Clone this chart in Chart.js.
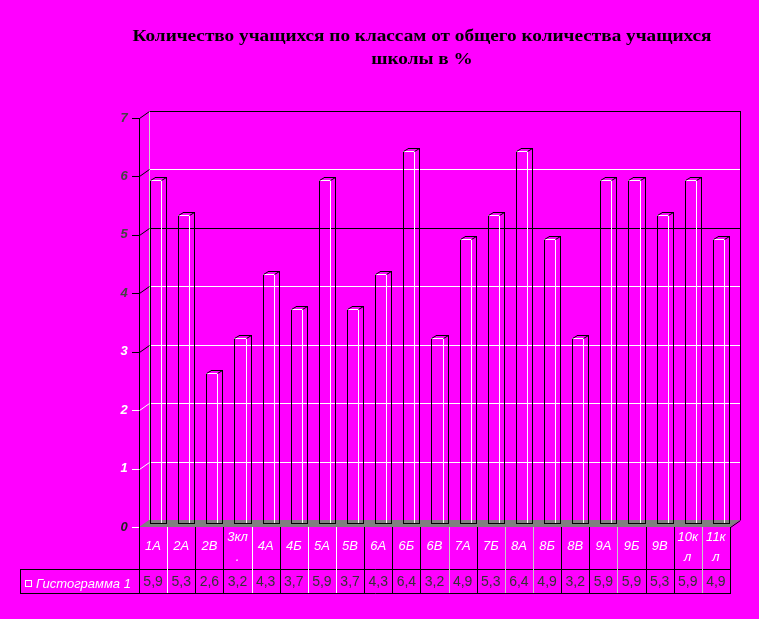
<!DOCTYPE html>
<html>
<head>
<meta charset="utf-8">
<script src="https://cdn.jsdelivr.net/npm/chart.js@4/dist/chart.umd.min.js"></script>
<style>
html,body{margin:0;padding:0;background:#ff00ff;}
#c{display:block;}
</style>
</head>
<body>
<canvas id="c" width="759" height="619"></canvas>
<script>
const titleLines = ['Количество учащихся по классам от общего количества учащихся', 'школы в %'];
const categories = ['1А','2А','2В','3кл.','4А','4Б','5А','5В','6А','6Б','6В','7А','7Б','8А','8Б','8В','9А','9Б','9В','10кл','11кл'];
const seriesName = 'Гистограмма 1';
const values = [5.9,5.3,2.6,3.2,4.3,3.7,5.9,3.7,4.3,6.4,3.2,4.9,5.3,6.4,4.9,3.2,5.9,5.9,5.3,5.9,4.9];
const yTicks = [0,1,2,3,4,5,6,7];

const DX = 10, DY = -7;          // back wall offset
const BDX = 5, BDY = -3;         // bar depth offset
// colours of the data-table column dividers (between categories), left to right
const dividerColors = ['#ffffff','#000','#000','#ffffff','#000','#ffffff','#ffffff','#000','#000','#000','#c8c8c8','#000','#c8c8c8','#c8c8c8','#000','#000','#c8c8c8','#000','#000','#c8c8c8'];

function hline(ctx, x1, x2, y, c){ ctx.strokeStyle=c; ctx.lineWidth=1; ctx.beginPath(); ctx.moveTo(Math.round(x1), Math.round(y)+0.5); ctx.lineTo(Math.round(x2), Math.round(y)+0.5); ctx.stroke(); }
function vline(ctx, x, y1, y2, c){ ctx.strokeStyle=c; ctx.lineWidth=1; ctx.beginPath(); ctx.moveTo(Math.round(x)+0.5, Math.round(y1)); ctx.lineTo(Math.round(x)+0.5, Math.round(y2)); ctx.stroke(); }
function dline(ctx, x1, y1, x2, y2, c){ ctx.strokeStyle=c; ctx.lineWidth=1; ctx.beginPath(); ctx.moveTo(Math.round(x1)+0.5, Math.round(y1)+0.5); ctx.lineTo(Math.round(x2)+0.5, Math.round(y2)+0.5); ctx.stroke(); }

function wrapText(ctx, text, maxW){
  const lines = []; let cur = '';
  for (const ch of text){
    if (cur && ctx.measureText(cur + ch).width > maxW){ lines.push(cur); cur = ch; }
    else cur += ch;
  }
  if (cur) lines.push(cur);
  return lines;
}

const chart3d = {
  id: 'chart3d',
  beforeDatasetsDraw(chart){
    const ctx = chart.ctx, a = chart.chartArea, y = chart.scales.y;
    ctx.save();
    const L = a.left, R = a.right, T = a.top, B = a.bottom;
    // floor
    ctx.fillStyle = '#808080';
    ctx.beginPath();
    ctx.moveTo(L, B); ctx.lineTo(R, B); ctx.lineTo(R+DX, B+DY); ctx.lineTo(L+DX, B+DY); ctx.closePath(); ctx.fill();
    dline(ctx, R, B, R+DX, B+DY, '#000');
    // back wall gridlines
    yTicks.forEach(v => {
      if (v === 0) return;
      const py = y.getPixelForValue(v) + DY;
      const col = (v === 5 || v === 7) ? '#000' : '#ffffff';
      hline(ctx, L+DX, R+DX+1, py, col);
    });
    // back wall edges
    vline(ctx, L+DX, T+DY, B+DY, '#d0d0d0');
    vline(ctx, R+DX, T+DY, B+DY, '#000');
    // front axis line, ticks and connectors
    vline(ctx, L, T, B, '#000');
    yTicks.forEach(v => {
      const py = y.getPixelForValue(v);
      const col = v >= 3 ? '#000' : '#ffffff';
      hline(ctx, L-7, L, py, col);
      if (v > 0) dline(ctx, L, py, L+DX, py+DY, col);
    });
    ctx.restore();
  },
  afterDatasetsDraw(chart){
    const ctx = chart.ctx, a = chart.chartArea, y = chart.scales.y, x = chart.scales.x;
    const meta = chart.getDatasetMeta(0);
    ctx.save();
    // bars (outline 3D columns)
    meta.data.forEach(el => {
      const l = Math.round(el.x - el.width/2 + 2.5);
      const r = Math.round(el.x + el.width/2 + 2.5);
      const t = Math.round(el.y - 2);
      const b = Math.round(el.base - 4);
      hline(ctx, l, r+BDX+1, b, '#000');
      vline(ctx, r+BDX, b+BDY, b+1, '#000');
      vline(ctx, l, t, b, '#000');
      vline(ctx, r, t, b, '#ffffff');
      vline(ctx, r+BDX, t+BDY, b+BDY, '#000');
      hline(ctx, l, r+1, t, '#ffffff');
      hline(ctx, l+BDX, r+BDX+1, t+BDY, '#000');
      dline(ctx, l, t, l+BDX, t+BDY, '#000');
      dline(ctx, r, t, r+BDX, t+BDY, '#000');
    });
    // y tick labels
    ctx.font = 'italic bold 13px "Liberation Sans", Arial, sans-serif';
    ctx.textAlign = 'center'; ctx.textBaseline = 'middle';
    yTicks.forEach(v => {
      ctx.fillStyle = v >= 4 ? '#444' : (v === 0 ? '#222' : '#ffffff');
      ctx.fillText(String(v), a.left - 15, y.getPixelForValue(v));
    });
    // data table
    const L = a.left, R = a.right, B = a.bottom;
    const rowMid = 569, rowBot = 593, legL = 20;
    hline(ctx, legL, R+1, rowMid, '#000');
    hline(ctx, legL, R+1, rowBot, '#000');
    vline(ctx, legL, rowMid, rowBot, '#000');
    vline(ctx, L, B, rowBot, '#000');
    vline(ctx, R, B, rowBot+1, '#000');
    const n = categories.length;
    const colW = (R - L) / n;
    for (let i = 1; i < n; i++){
      vline(ctx, L + i*colW, B, rowBot, dividerColors[i-1]);
    }
    // category labels
    ctx.font = 'italic 13px "Liberation Sans", Arial, sans-serif';
    ctx.fillStyle = '#ffffff';
    categories.forEach((c, i) => {
      const cx = x.getPixelForValue(i);
      const lines = wrapText(ctx, c, 21);
      if (lines.length === 1) ctx.fillText(lines[0], cx, 546);
      else { ctx.fillText(lines[0], cx, 537); ctx.fillText(lines[1], cx, 557); }
    });
    // values
    ctx.font = '14px "Liberation Sans", Arial, sans-serif';
    ctx.fillStyle = '#333';
    values.forEach((v, i) => {
      ctx.fillText(v.toFixed(1).replace('.', ','), x.getPixelForValue(i), 582);
    });
    // legend cell
    ctx.strokeStyle = '#ffffff'; ctx.lineWidth = 1;
    ctx.strokeRect(25.5, 580.5, 6, 6);
    ctx.font = 'italic 13px "Liberation Sans", Arial, sans-serif';
    ctx.textAlign = 'left';
    ctx.fillStyle = '#ffffff';
    ctx.fillText(seriesName, 36, 584);
    // title
    ctx.font = 'bold 16px "Liberation Serif", "Times New Roman", serif';
    ctx.fillStyle = '#000';
    ctx.textAlign = 'center';
    const w0 = ctx.measureText(titleLines[0]).width;
    const sx = 579 / w0;
    [[titleLines[0], 37], [titleLines[1], 60]].forEach(([t, ty]) => {
      ctx.save();
      ctx.translate(422, ty);
      ctx.scale(sx, 1);
      ctx.fillText(t, 0, 0);
      ctx.restore();
    });
    ctx.restore();
  }
};

new Chart(document.getElementById('c').getContext('2d'), {
  type: 'bar',
  data: {
    labels: categories,
    datasets: [{
      label: seriesName,
      data: values,
      backgroundColor: 'rgba(0,0,0,0)',
      borderWidth: 0,
      barPercentage: 0.4,
      categoryPercentage: 1
    }]
  },
  options: {
    responsive: false,
    animation: false,
    devicePixelRatio: 1,
    layout: { padding: { left: 139, right: 29, top: 118, bottom: 92 } },
    plugins: { legend: { display: false }, title: { display: false }, tooltip: { enabled: false } },
    scales: {
      x: { display: false, offset: true },
      y: { display: false, min: 0, max: 7 }
    }
  },
  plugins: [chart3d]
});
</script>
</body>
</html>
